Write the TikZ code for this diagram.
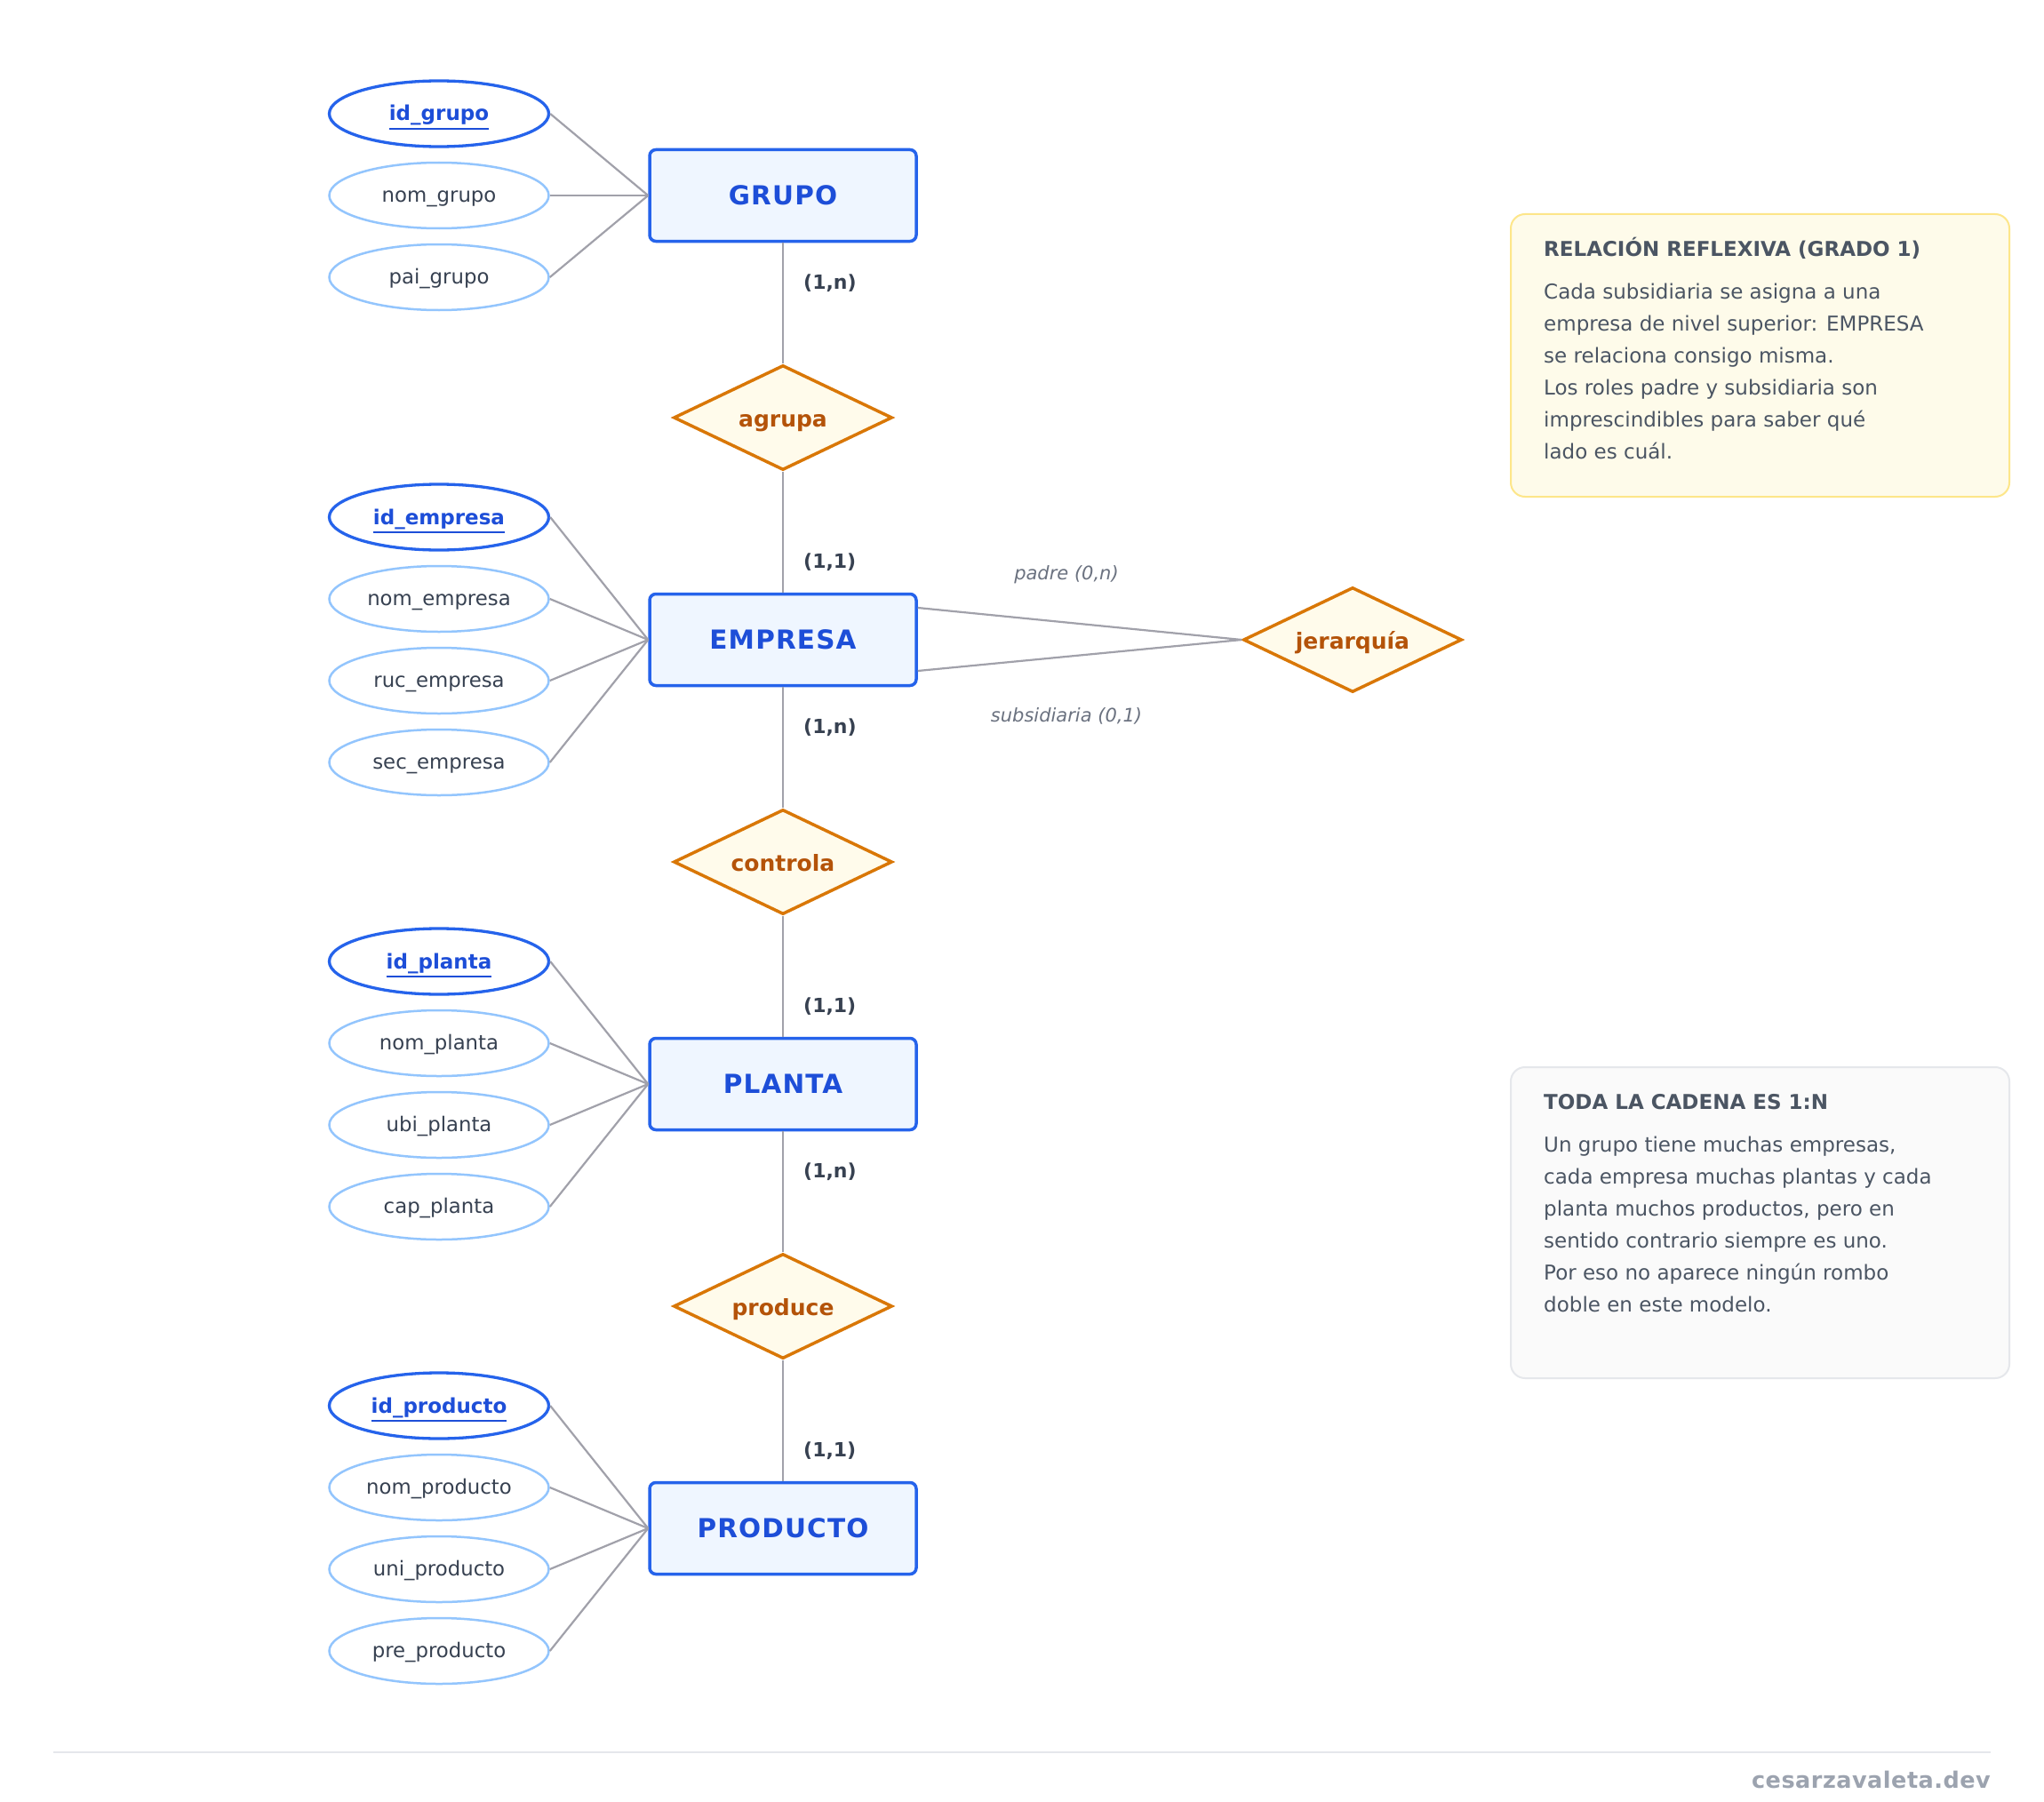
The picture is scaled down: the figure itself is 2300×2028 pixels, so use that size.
\documentclass[tikz,border=0pt]{standalone}
\usepackage{fontspec}
\setmainfont{DejaVu Sans}
\newfontfamily\entfont[LetterSpace=4]{DejaVu Sans}
\newfontfamily\footfont[LetterSpace=2]{DejaVu Sans}
\usetikzlibrary{shapes.geometric,calc}
\definecolor{entblue}{HTML}{2563EB}
\definecolor{enttext}{HTML}{1D4ED8}
\definecolor{entfill}{HTML}{EFF6FF}
\definecolor{attborder}{HTML}{93C5FD}
\definecolor{atttext}{HTML}{374151}
\definecolor{conn}{HTML}{A1A1AA}
\definecolor{relborder}{HTML}{D97706}
\definecolor{relfill}{HTML}{FFFBEB}
\definecolor{reltext}{HTML}{B45309}
\definecolor{cardtext}{HTML}{374151}
\definecolor{roletext}{HTML}{6B7280}
\definecolor{noteAfill}{HTML}{FEFBEA}
\definecolor{noteAborder}{HTML}{FDE68A}
\definecolor{noteBfill}{HTML}{FAFAFA}
\definecolor{noteBborder}{HTML}{E5E7EB}
\definecolor{notetext}{HTML}{4B5563}
\definecolor{footline}{HTML}{E5E7EB}
\definecolor{foottext}{HTML}{9CA3AF}
\newcommand\keyul[1]{\setbox0=\hbox{#1}\rlap{\rule[-10pt]{\wd0}{2pt}}\box0}
\tikzset{
  entity/.style={draw=entblue, line width=3.5pt, fill=entfill, rounded corners=7pt,
    minimum width=300pt, minimum height=103pt, inner sep=0pt, text=enttext,
    font=\fontsize{29.5}{34}\entfont\bfseries, text height=21pt, text depth=0pt},
  attr/.style={ellipse, draw=attborder, line width=2.5pt, fill=white,
    minimum width=247pt, minimum height=74pt, inner sep=0pt, text=atttext,
    font=\fontsize{22.8}{26}\selectfont, text height=15pt, text depth=0pt},
  keyattr/.style={attr, draw=entblue, line width=3.3pt, text=enttext,
    font=\fontsize{23}{26}\selectfont\bfseries, text height=16pt},
  rel/.style={diamond, aspect=2, draw=relborder, line width=3.5pt, fill=relfill,
    minimum width=246pt, minimum height=118pt, inner sep=0pt, text=reltext,
    font=\fontsize{25}{28}\selectfont\bfseries, text height=20pt, text depth=0pt},
  conline/.style={draw=conn, line width=2.2pt},
  card/.style={anchor=base west, text=cardtext, inner sep=0pt,
    font=\fontsize{22}{24}\selectfont\bfseries},
  role/.style={anchor=base, text=roletext, inner sep=0pt,
    font=\fontsize{21}{24}\selectfont\itshape},
  notetitle/.style={anchor=base west, text=notetext, inner sep=0pt,
    font=\fontsize{23}{28}\selectfont\bfseries},
  notebody/.style={anchor=north west, text=notetext, inner sep=0pt, align=left,
    font=\fontsize{23}{36}\selectfont},
}
\begin{document}
\begin{tikzpicture}[x=1pt,y=-1pt]
\useasboundingbox[fill=white] (0,0) rectangle (2300,2028);

% notes
\draw[fill=noteAfill, draw=noteAborder, line width=2pt, rounded corners=16pt] (1700,241) rectangle (2261,559);
\draw[fill=noteBfill, draw=noteBborder, line width=2pt, rounded corners=16pt] (1700,1201) rectangle (2261,1551);
\node[notetitle] (t1) at (1737,288) {RELACIÓN REFLEXIVA (GRADO 1)};
\node[notebody] (b1) at (1737,318.5) {Cada subsidiaria se asigna a una\\empresa de nivel superior: EMPRESA\\se relaciona consigo misma.\\Los roles padre y subsidiaria son\\imprescindibles para saber qué\\lado es cuál.};
\node[notetitle] (t2) at (1737,1248) {TODA LA CADENA ES 1:N};
\node[notebody] (b2) at (1737,1278.5) {Un grupo tiene muchas empresas,\\cada empresa muchas plantas y cada\\planta muchos productos, pero en\\sentido contrario siempre es uno.\\Por eso no aparece ningún rombo\\doble en este modelo.};

% entities
\node[entity] (grupo) at (881,220) {GRUPO};
\node[entity] (empresa) at (881,720) {EMPRESA};
\node[entity] (planta) at (881,1220) {PLANTA};
\node[entity] (producto) at (881,1720) {PRODUCTO};

% relationships
\node[rel] (agrupa) at (881,470) {agrupa};
\node[rel] (controla) at (881,970) {controla};
\node[rel] (produce) at (881,1470) {produce};
\node[rel] (jerarquia) at (1522,720) {jerarquía};

% attributes
\node[keyattr] (g1) at (494,128) {\keyul{id\_grupo}};
\node[attr] (g2) at (494,220) {nom\_grupo};
\node[attr] (g3) at (494,312) {pai\_grupo};

\node[keyattr] (e1) at (494,582) {\keyul{id\_empresa}};
\node[attr] (e2) at (494,674) {nom\_empresa};
\node[attr] (e3) at (494,766) {ruc\_empresa};
\node[attr] (e4) at (494,858) {sec\_empresa};

\node[keyattr] (p1) at (494,1082) {\keyul{id\_planta}};
\node[attr] (p2) at (494,1174) {nom\_planta};
\node[attr] (p3) at (494,1266) {ubi\_planta};
\node[attr] (p4) at (494,1358) {cap\_planta};

\node[keyattr] (r1) at (494,1582) {\keyul{id\_producto}};
\node[attr] (r2) at (494,1674) {nom\_producto};
\node[attr] (r3) at (494,1766) {uni\_producto};
\node[attr] (r4) at (494,1858) {pre\_producto};

% attribute connectors
\foreach \a in {g1,g2,g3} \draw[conline] (\a.east) -- (grupo.west);
\foreach \a in {e1,e2,e3,e4} \draw[conline] (\a.east) -- (empresa.west);
\foreach \a in {p1,p2,p3,p4} \draw[conline] (\a.east) -- (planta.west);
\foreach \a in {r1,r2,r3,r4} \draw[conline] (\a.east) -- (producto.west);

% chain connectors
\draw[conline] (grupo.south) -- (agrupa.north);
\draw[conline] (agrupa.south) -- (empresa.north);
\draw[conline] (empresa.south) -- (controla.north);
\draw[conline] (controla.south) -- (planta.north);
\draw[conline] (planta.south) -- (produce.north);
\draw[conline] (produce.south) -- (producto.north);

% reflexive
\draw[conline] ([yshift=36pt]empresa.east) -- (jerarquia.west);
\draw[conline] ([yshift=-35pt]empresa.east) -- (jerarquia.west);
\node[role] (rp) at (1200,652) {padre (0,n)};
\node[role] (rs) at (1200,812) {subsidiaria (0,1)};

% cardinalities
\node[card] (c1) at (904,325) {(1,n)};
\node[card] (c2) at (904,639.5) {(1,1)};
\node[card] (c3) at (904,825) {(1,n)};
\node[card] (c4) at (904,1139.5) {(1,1)};
\node[card] (c5) at (904,1325) {(1,n)};
\node[card] (c6) at (904,1639.5) {(1,1)};

% footer
\coordinate (fl) at (60,1972);
\coordinate (fr) at (2240,1972);
\draw[draw=footline, line width=2pt] (fl) -- (fr);
\node[anchor=base east, inner sep=0pt, text=foottext, font=\fontsize{25.5}{30}\footfont\bfseries] (foot) at (2240,2012) {cesarzavaleta.dev};
\end{tikzpicture}
\end{document}
